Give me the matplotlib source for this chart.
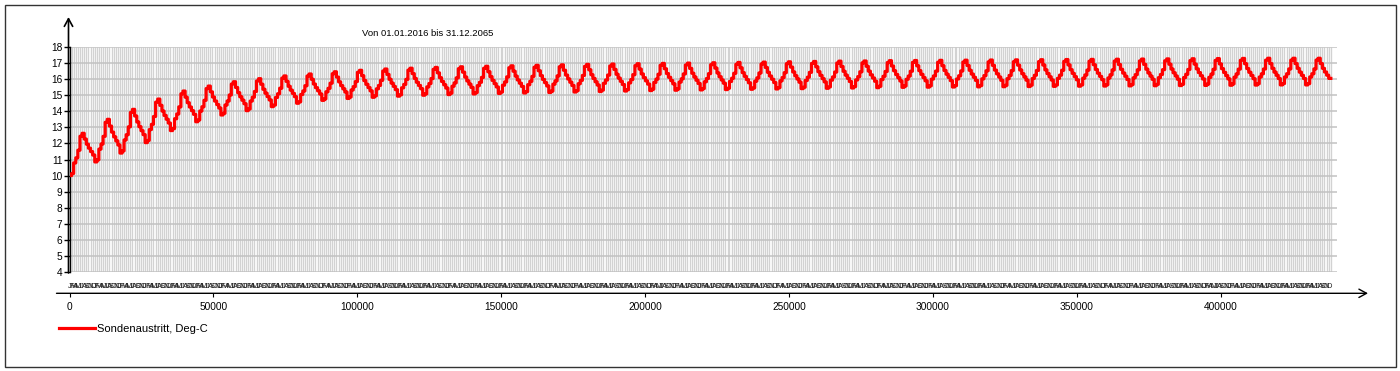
import numpy as np
import pandas as pd
import matplotlib
matplotlib.use("Agg")
import matplotlib.pyplot as plt
from matplotlib.transforms import blended_transform_factory
from matplotlib.patches import Rectangle

plt.rcParams['font.family'] = ['Liberation Sans', 'DejaVu Sans']

# ---- data ----
title_text = "Von 01.01.2016 bis 31.12.2065"
series_label = "Sondenaustritt, Deg-C"
start_date = "2016-01-01"
n_years = 50

# winter level (Jan/Feb) of each year, last entry = level after the final year
year_low = [10.0, 10.85, 11.4, 12.05, 12.8, 13.35, 13.77, 14.04, 14.29, 14.5,
            14.68, 14.8, 14.87, 14.94, 15.0, 15.04, 15.08, 15.11, 15.14, 15.17,
            15.2, 15.23, 15.26, 15.29, 15.31, 15.33, 15.35, 15.37, 15.39, 15.41,
            15.43, 15.45, 15.47, 15.49, 15.5, 15.51, 15.52, 15.53, 15.54, 15.55,
            15.56, 15.57, 15.58, 15.59, 15.6, 15.61, 15.62, 15.63, 15.64, 15.64,
            15.65]
# summer peak of each year
year_high = [12.63, 13.5, 14.12, 14.76, 15.26, 15.57, 15.84, 16.03, 16.2, 16.32,
             16.46, 16.55, 16.63, 16.68, 16.73, 16.77, 16.8, 16.83, 16.86, 16.89,
             16.92, 16.94, 16.96, 16.98, 17.0, 17.02, 17.04, 17.06, 17.08, 17.1,
             17.12, 17.13, 17.15, 17.16, 17.17, 17.18, 17.19, 17.2, 17.21, 17.22,
             17.23, 17.24, 17.25, 17.26, 17.27, 17.28, 17.29, 17.3, 17.3, 17.3]
# relative position of each month between winter level and summer peak
month_shape = [0.0, 0.05, 0.3, 0.42, 0.6, 0.93, 1.0, 0.8, 0.62, 0.48, 0.36, 0.24]
month_letters = ["J", "F", "M", "A", "M", "J", "J", "A", "S", "O", "N", "D"]
y_ticks = list(range(4, 19))
x_ticks = [0, 50000, 100000, 150000, 200000, 250000, 300000, 350000, 400000]

# ---- build monthly series ----
dates = pd.date_range(start_date, periods=n_years * 12 + 1, freq="MS")
hours = ((dates - dates[0]).total_seconds() / 3600.0).to_numpy()
values = []
for k in range(n_years):
    for m in range(12):
        lo = year_low[k] if m <= 6 else year_low[k + 1]
        values.append(lo + month_shape[m] * (year_high[k] - lo))
values.append(values[-1])
values = np.array(values)

# ---- figure ----
W, H = 1400, 371
fig = plt.figure(figsize=(W / 100, H / 100), dpi=100)

def fx(px):
    return px / W

def fy(py):
    return 1 - py / H

left_px, right_px, top_px, bot_px = 69.5, 1337, 47, 272
ax = fig.add_axes([fx(left_px), fy(bot_px), fx(right_px - left_px), (bot_px - top_px) / H])
px_per_unit = 1 / 347.5
ax.set_xlim(0, (right_px - left_px) / px_per_unit)
ax.set_ylim(4, 18)

# monthly vertical grid
ax.vlines(hours, 4, 18, color="#d2d2d2", lw=0.95, zorder=0)
# horizontal grid
for yv in y_ticks:
    ax.axhline(yv, color="#c2c2c2", lw=1.1, zorder=1)

ax.plot(hours, values, drawstyle="steps-post", color="#ff0000", lw=2.3,
        zorder=3, label=series_label, solid_joinstyle="round")

for s in ("top", "right"):
    ax.spines[s].set_visible(False)
ax.spines["left"].set_color("black")
ax.spines["left"].set_linewidth(1.0)
ax.spines["bottom"].set_position(("outward", 21.3 * 0.72))
ax.spines["bottom"].set_visible(False)

ax.set_yticks(y_ticks)
ax.set_yticklabels([str(v) for v in y_ticks])
ax.set_xticks(x_ticks)
ax.set_xticklabels([str(v) for v in x_ticks])
ax.tick_params(axis="y", direction="out", length=4, width=1, pad=1.0,
               labelsize=7.3, colors="black")
ax.tick_params(axis="x", direction="out", length=3, width=0.8, pad=3,
               labelsize=7.3, colors="black")

# month labels (overlapping row)
tr = blended_transform_factory(ax.transData, fig.transFigure)
for i in range(n_years * 12):
    ax.text(hours[i], fy(286.5), month_letters[i % 12], transform=tr,
            ha="center", va="center", fontsize=5.4, color="#222222", clip_on=False)

# axis arrows
ax.annotate("", xy=(fx(68.5), fy(17)), xytext=(fx(68.5), fy(273)),
            xycoords="figure fraction", textcoords="figure fraction",
            arrowprops=dict(arrowstyle="->,head_length=0.55,head_width=0.3",
                            lw=1.2, color="black", shrinkA=0, shrinkB=0))
ax.annotate("", xy=(fx(1368), fy(293.3)), xytext=(fx(56.5), fy(293.3)),
            xycoords="figure fraction", textcoords="figure fraction",
            arrowprops=dict(arrowstyle="->,head_length=0.55,head_width=0.3",
                            lw=1.0, color="black", shrinkA=0, shrinkB=0))

# title
fig.text(fx(362), fy(33), title_text, fontsize=6.8, ha="left", va="center", color="black")

# legend
fig.legend(loc="center left", bbox_to_anchor=(fx(59), fy(328.5)), frameon=False,
           fontsize=8, handlelength=3.2, handletextpad=0.2, borderpad=0,
           borderaxespad=0)

# outer border
fig.patches.append(Rectangle((fx(4.5), fy(366.5)), fx(1391), (362) / H,
                             transform=fig.transFigure, fill=False,
                             edgecolor="#333333", lw=1.0))

fig.savefig("out.png", dpi=100)
